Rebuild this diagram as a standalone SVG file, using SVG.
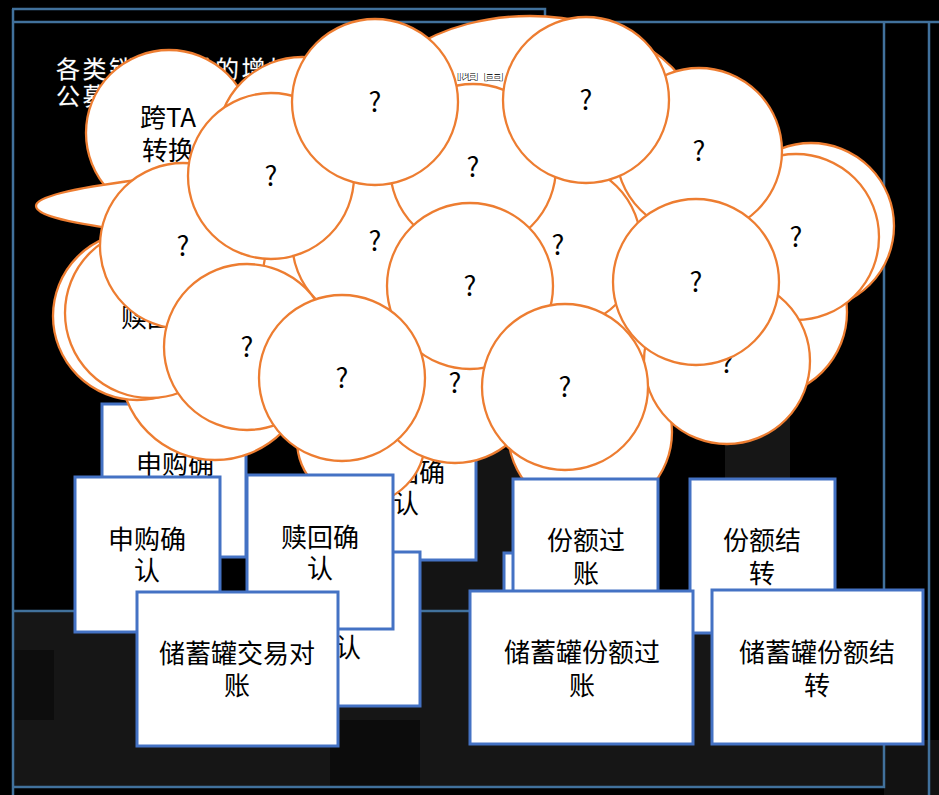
<svg xmlns="http://www.w3.org/2000/svg" width="939" height="795" viewBox="0 0 939 795">
<defs>
<clipPath id="clipTitle"><rect x="440" y="73" width="80" height="20"/></clipPath>
</defs>
<style>
.frame{fill:none;stroke:#41719c;stroke-width:2.5}
.c{fill:#fff;stroke:#ed7d31;stroke-width:2.3}
.box{fill:#fff;stroke:#4472c4;stroke-width:3}
.t{font-family:"Noto Sans CJK SC","Noto Sans",sans-serif;font-size:26px;fill:#000;text-anchor:middle}
.q{font-family:"Noto Sans CJK SC","Noto Sans",sans-serif;font-size:27px;fill:#000;text-anchor:middle}
.title{font-family:"Noto Sans CJK SC","Noto Sans",sans-serif;font-size:24px;letter-spacing:2.5px;fill:#fff;stroke:#333;stroke-width:0.8;paint-order:stroke}
</style>
<rect width="939" height="795" fill="#000"/>
<g id="background">
<rect x="14" y="611" width="870" height="176" fill="#161616"/>
<rect x="420" y="450" width="110" height="161" fill="#141414"/>
<rect x="725" y="380" width="65" height="100" fill="#161616"/>
<rect x="884" y="740" width="55" height="55" fill="#121212"/>
<rect x="330" y="720" width="90" height="67" fill="#0c0c0c"/>
<rect x="14" y="650" width="40" height="70" fill="#0d0d0d"/>
</g>
<g id="frames">
<path class="frame" d="M12,9 H545 V22"/>
<path class="frame" d="M13,9 V795"/>
<path class="frame" d="M14,22 H939"/>
<path class="frame" d="M884,22 V787 H14"/>
<path class="frame" d="M929,22 V795"/>
<path class="frame" d="M14,611 H545"/>
</g>
<g id="box-back-1"><rect class="box" x="102" y="404" width="144" height="153"/><text class="t" x="175" y="474">申购确</text></g>
<g id="box-back-2"><rect class="box" x="334" y="412" width="142" height="148"/><text class="t" x="406" y="482">赎回确<tspan x="406" dy="31">认</tspan></text></g>
<g id="cloud">
<ellipse class="c" cx="530" cy="130" rx="170" ry="114"/>
<g id="title">
<text class="title" x="56" y="78">各类销售渠道的增加</text>
<text class="title" x="455" y="78" clip-path="url(#clipTitle)" style="fill:#fff;stroke:#222;stroke-width:1.2">储蓄</text>
<text class="title" x="56" y="105">公募</text>
</g>
<g id="n-kuata"><circle class="c" cx="169" cy="133" r="83"/><text class="t" x="168" y="127">跨TA<tspan x="168" dy="33">转换</tspan></text></g>
<circle class="c" cx="302" cy="142" r="85"/>
<circle class="c" cx="811" cy="226" r="83"/>
<circle class="c" cx="762" cy="312" r="85"/>
<circle class="c" cx="215" cy="365" r="95"/>
<circle class="c" cx="361" cy="440" r="64"/>
<circle class="c" cx="590" cy="432" r="82"/>
<ellipse cx="470" cy="255" rx="300" ry="150" fill="#fff"/>
<path class="c" d="M36,206 C36,195 90,186 138,180 L138,232 C90,226 36,218 36,206 Z"/>
<g id="n-shuhui"><circle class="c" cx="137" cy="316" r="84"/><circle class="c" cx="150" cy="313" r="85"/><text class="t" x="121" y="327" style="text-anchor:start">赎回</text></g>
<g id="q6"><circle class="c" cx="183" cy="246" r="83"/><text class="q" x="183" y="256">?</text></g>
<g id="q7"><circle class="c" cx="375" cy="241" r="83"/><text class="q" x="375" y="251">?</text></g>
<g id="q2"><circle class="c" cx="271" cy="176" r="83"/><text class="q" x="271" y="186">?</text></g>
<g id="q9"><circle class="c" cx="558" cy="245" r="83"/><text class="q" x="558" y="255">?</text></g>
<g id="q8"><circle class="c" cx="473" cy="167" r="83"/><text class="q" x="473" y="177">?</text></g>
<g id="q1"><circle class="c" cx="375" cy="102" r="83"/><text class="q" x="375" y="112">?</text></g>
<g id="q5"><circle class="c" cx="796" cy="237" r="83"/><text class="q" x="796" y="247">?</text></g>
<g id="q4"><circle class="c" cx="699" cy="151" r="83"/><text class="q" x="699" y="161">?</text></g>
<g id="q3"><circle class="c" cx="586" cy="100" r="83"/><text class="q" x="586" y="110">?</text></g>
<g id="q14"><circle class="c" cx="455" cy="380" r="83"/><text class="q" x="455" y="393">?</text></g>
<g id="q10"><circle class="c" cx="470" cy="286" r="83"/><text class="q" x="470" y="296">?</text></g>
<g id="q12"><circle class="c" cx="247" cy="347" r="83"/><text class="q" x="247" y="357">?</text></g>
<g id="q16"><circle class="c" cx="727" cy="361" r="83"/><text class="q" x="727" y="373">?</text></g>
<g id="q11"><circle class="c" cx="696" cy="282" r="83"/><text class="q" x="696" y="292">?</text></g>
<g id="q13"><circle class="c" cx="342" cy="378" r="83"/><text class="q" x="342" y="388">?</text></g>
<g id="q15"><circle class="c" cx="565" cy="387" r="83"/><text class="q" x="565" y="397">?</text></g>
</g>
<g id="box-c"><rect class="box" x="75" y="477" width="145" height="155"/><text class="t" x="147" y="549">申购确<tspan x="147" dy="31">认</tspan></text></g>
<g id="box-e"><rect class="box" x="274" y="552" width="146" height="154"/><text class="t" x="348" y="657">认</text></g>
<g id="box-d"><rect class="box" x="247" y="475" width="146" height="154"/><text class="t" x="320" y="547">赎回确<tspan x="320" dy="31">认</tspan></text></g>
<g id="box-f"><rect class="box" x="137" y="592" width="201" height="154"/><text class="t" x="237" y="663">储蓄罐交易对<tspan x="237" dy="32">账</tspan></text></g>
<g id="box-g2"><rect class="box" x="504" y="553" width="146" height="154"/></g>
<g id="box-g"><rect class="box" x="513" y="479" width="145" height="154"/><text class="t" x="586" y="550">份额过<tspan x="586" dy="33">账</tspan></text></g>
<g id="box-i"><rect class="box" x="690" y="479" width="145" height="154"/><text class="t" x="762" y="550">份额结<tspan x="762" dy="33">转</tspan></text></g>
<g id="box-h"><rect class="box" x="470" y="591" width="223" height="153"/><text class="t" x="582" y="662">储蓄罐份额过<tspan x="582" dy="33">账</tspan></text></g>
<g id="box-j"><rect class="box" x="712" y="590" width="211" height="154"/><text class="t" x="817" y="662">储蓄罐份额结<tspan x="817" dy="33">转</tspan></text></g>
</svg>
